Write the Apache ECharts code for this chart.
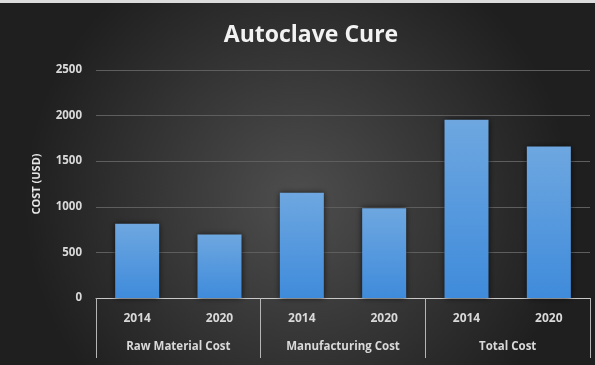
<!DOCTYPE html>
<html>
<head>
<meta charset="utf-8">
<script src="https://cdn.jsdelivr.net/npm/echarts@6/dist/echarts.min.js"></script>
<style>
  html, body { margin: 0; padding: 0; background: #dcdcdc; }
  #chart { width: 595px; height: 365px; }
</style>
</head>
<body>
<div id="chart"></div>
<script>
// Cost categories and years shown on the two-level x axis
const groups = ['Raw Material Cost', 'Manufacturing Cost', 'Total Cost'];
const years = ['2014', '2020', '2014', '2020', '2014', '2020'];
// Cost in USD, one value per year within each group
const costs = [815, 695, 1155, 985, 1955, 1660];
// Value axis ticks
const yTicks = [0, 500, 1000, 1500, 2000, 2500];

const chart = echarts.init(document.getElementById('chart'));
const labelFont = '"Open Sans", "DejaVu Sans", sans-serif';

chart.setOption({
  backgroundColor: {
    type: 'radial', x: 0.5, y: 0.55, r: 0.75,
    colorStops: [
      { offset: 0, color: '#4e4e4e' },
      { offset: 1, color: '#1f1f1f' }
    ]
  },
  graphic: [{
    type: 'rect', left: 0, top: 0,
    shape: { width: 595, height: 3 },
    style: { fill: '#dcdcdc' }
  }],
  title: {
    text: 'Autoclave Cure',
    left: 306, top: 19, textAlign: 'center',
    textStyle: { color: '#f2f2f2', fontFamily: labelFont, fontSize: 23, fontWeight: 'bold' }
  },
  grid: { left: 96, right: 5, top: 70, bottom: 67 },
  yAxis: {
    type: 'value',
    min: yTicks[0], max: yTicks[yTicks.length - 1], interval: 500,
    name: 'COST (USD)', nameLocation: 'middle', nameGap: 54, nameRotate: 90,
    nameTextStyle: { color: '#e6e6e6', fontFamily: labelFont, fontSize: 11, fontWeight: 'bold' },
    axisLine: { show: false },
    axisTick: { show: false },
    axisLabel: {
      color: '#d9d9d9', fontFamily: labelFont, fontSize: 11.5, fontWeight: 'bold', margin: 14,
      formatter: (v) => String(v)
    },
    splitLine: { lineStyle: { color: '#5e5e5e', width: 1 } }
  },
  xAxis: [
    {
      type: 'category', data: years, position: 'bottom',
      axisLine: { lineStyle: { color: '#c8c8c8', width: 1 } },
      axisTick: { show: false },
      axisLabel: { color: '#d9d9d9', fontFamily: labelFont, fontSize: 12, fontWeight: 'bold', margin: 15 }
    },
    {
      type: 'category', data: groups, position: 'bottom',
      axisLine: { show: false },
      axisTick: { show: true, length: 60, lineStyle: { color: '#b5b5b5', width: 1 } },
      axisLabel: { color: '#d9d9d9', fontFamily: labelFont, fontSize: 11.5, fontWeight: 'bold', margin: 43 },
      splitLine: { show: false }
    }
  ],
  series: [{
    type: 'bar',
    xAxisIndex: 0,
    data: costs,
    barWidth: 44,
    itemStyle: {
      color: {
        type: 'linear', x: 0, y: 0, x2: 0, y2: 1,
        colorStops: [
          { offset: 0, color: '#6ea7e0' },
          { offset: 1, color: '#3f8bdb' }
        ]
      },
      shadowColor: 'rgba(0,0,0,0.7)',
      shadowBlur: 6
    },
    animation: false
  }],
  animation: false
});
</script>
</body>
</html>
